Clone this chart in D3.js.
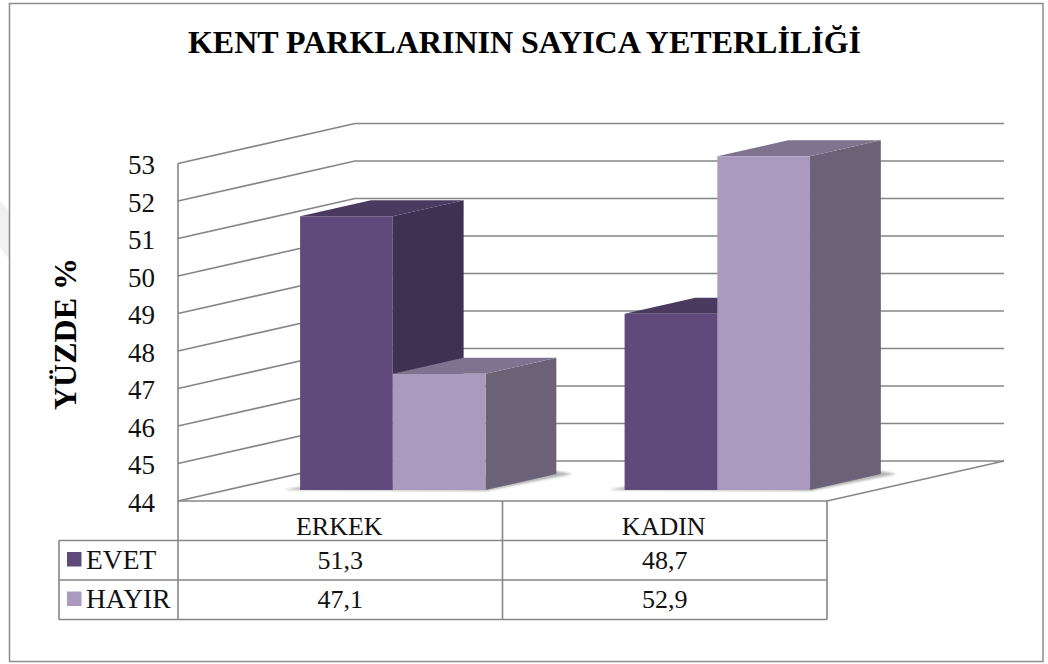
<!DOCTYPE html>
<html>
<head>
<meta charset="utf-8">
<script src="https://cdn.jsdelivr.net/npm/d3@7"></script>
<style>
body { margin: 0; background: #fff; }
svg { display: block; }
text { font-family: "Liberation Serif", serif; fill: #111; }
.grid { stroke: #868686; stroke-width: 1.6; fill: none; }
</style>
</head>
<body>
<script>
// values
var categories = ["ERKEK", "KADIN"];
var seriesNames = ["EVET", "HAYIR"];
var evet = [51.3, 48.7];
var hayir = [47.1, 52.9];
var yTicks = [44, 45, 46, 47, 48, 49, 50, 51, 52, 53];
var titleText = "KENT PARKLARININ SAYICA YETERLİLİĞİ";
var yTitle = "YÜZDE %";

var colors = {
    EVET: {front: "#604a7b", top: "#4b3a60", side: "#3f3152"},
    HAYIR: {front: "#aa9abd", top: "#7f738f", side: "#6b6277"}
};

var width = 1048, height = 664;

var svg = d3.select("body").append("svg")
    .attr("width", width)
    .attr("height", height);

var defs = svg.append("defs");
defs.append("filter").attr("id", "blur")
    .append("feGaussianBlur").attr("stdDeviation", 1);

// faint mark on the left edge of the page
svg.append("polygon")
    .attr("points", "0,200 9,211 9,259 0,248")
    .attr("fill", "#f1f1f1");

// outer frame
svg.append("rect")
    .attr("x", 9.5).attr("y", 3.5)
    .attr("width", 1033.5).attr("height", 658)
    .attr("fill", "#fff")
    .attr("stroke", "#8c8c8c").attr("stroke-width", 1.5);

// scales, t is the depth into the chart (0 = front edge, 1 = back wall)
var x = d3.scaleBand().domain(categories).range([178, 827]);
var x1 = d3.scaleBand().domain(seriesNames).range([0, x.bandwidth()]).paddingOuter(0.75).align(0.528);
var y = d3.scaleLinear().domain([44, 53]).range([501, 163.5]);
var depthX = d3.scaleLinear().domain([0, 1]).range([0, 177]);
var depthY = d3.scaleLinear().domain([0, 1]).range([0, -40]);

function pt(xv, val, t) {
    return [xv + depthX(t), y(val) + depthY(t)];
}
var line = d3.line();

// walls and floor lines
var x0 = x.range()[0], xEnd = x.range()[1];
yTicks.forEach(function(d) {
    svg.append("path").attr("class", "grid")
        .attr("d", line([pt(x0, d, 0), pt(x0, d, 1), pt(xEnd, d, 1)]));
});
svg.append("path").attr("class", "grid")
    .attr("d", line([pt(xEnd, 44, 1), pt(xEnd, 44, 0)]));
svg.append("path").attr("class", "grid")
    .attr("d", line([pt(x0, 53, 0), pt(x0, 44, 0)]));

// y axis labels
var yAxis = svg.append("g")
    .attr("transform", "translate(155,0)")
    .call(d3.axisLeft(y).tickValues(yTicks).tickSize(0).tickPadding(0));
yAxis.select(".domain").remove();
yAxis.selectAll("text")
    .style("font-family", '"Liberation Serif", serif')
    .style("font-size", "27px")
    .attr("dy", "0.38em")
    .attr("fill", "#111");

// bars
var barFront = 0.275, barBack = 0.675;
var allValues = {EVET: evet, HAYIR: hayir};

function poly(g, pts, fill) {
    g.append("path").attr("d", line(pts) + "Z").attr("fill", fill);
}

categories.forEach(function(cat, i) {
    var g = svg.append("g").attr("class", "bars");
    var left = x(cat) + x1(seriesNames[0]);
    var right = x(cat) + x1(seriesNames[1]) + x1.bandwidth();

    // soft shadow on the floor
    var a = pt(left, 44, barFront), b = pt(right, 44, barFront), c = pt(right, 44, barBack);
    g.append("path")
        .attr("d", line([[a[0] - 16, a[1]], [b[0] + 1, b[1] + 1], [c[0] + 16, c[1]], [c[0], c[1] - 3], [a[0], a[1] - 3]]) + "Z")
        .attr("fill", "#b5b5b5")
        .attr("filter", "url(#blur)");

    seriesNames.forEach(function(name) {
        var v = allValues[name][i];
        var l = x(cat) + x1(name), r = l + x1.bandwidth();
        var col = colors[name];
        // side face
        poly(g, [pt(r, 44, barFront), pt(r, 44, barBack), pt(r, v, barBack), pt(r, v, barFront)], col.side);
        // top face
        poly(g, [pt(l, v, barFront), pt(l, v, barBack), pt(r, v, barBack), pt(r, v, barFront)], col.top);
        // front face
        poly(g, [pt(l, 44, barFront), pt(r, 44, barFront), pt(r, v, barFront), pt(l, v, barFront)], col.front);
    });
});

// data table under the chart
var rowY = d3.scaleBand().domain(["head"].concat(seriesNames)).range([501, 619.5]);
var tableLeft = 59;
var tableColor = "#868686";

function tline(x1v, y1v, x2v, y2v) {
    svg.append("line")
        .attr("x1", x1v).attr("y1", y1v).attr("x2", x2v).attr("y2", y2v)
        .attr("stroke", tableColor).attr("stroke-width", 1.6);
}
tline(x0, 501, xEnd, 501);
seriesNames.forEach(function(name) {
    tline(tableLeft, rowY(name), xEnd, rowY(name));
});
tline(tableLeft, 619.5, xEnd, 619.5);
tline(tableLeft, rowY("EVET"), tableLeft, 619.5);
tline(x0, 501, x0, 619.5);
tline(x("KADIN"), 501, x("KADIN"), 619.5);
tline(xEnd, 501, xEnd, 619.5);

var comma = d3.formatLocale({decimal: ",", thousands: ".", grouping: [3], currency: ["", ""]}).format(".1f");

categories.forEach(function(cat, i) {
    var cx = x(cat) + x.bandwidth() / 2;
    svg.append("text")
        .attr("x", cx - 1).attr("y", rowY("head") + 34)
        .attr("text-anchor", "middle")
        .style("font-size", "26px")
        .text(cat);
    seriesNames.forEach(function(name) {
        svg.append("text")
            .attr("x", cx).attr("y", rowY(name) + 28)
            .attr("text-anchor", "middle")
            .style("font-size", "26px")
            .text(comma(allValues[name][i]));
    });
});

seriesNames.forEach(function(name) {
    svg.append("rect")
        .attr("x", 67).attr("y", rowY(name) + 11.5)
        .attr("width", 14.5).attr("height", 14.5)
        .attr("fill", colors[name].front);
    svg.append("text")
        .attr("x", 86).attr("y", rowY(name) + 28)
        .style("font-size", "27.5px")
        .text(name);
});

// titles
svg.append("text")
    .attr("x", 524.5).attr("y", 53)
    .attr("text-anchor", "middle")
    .style("font-size", "32px")
    .style("font-weight", "bold")
    .style("fill", "#000")
    .text(titleText);

svg.append("text")
    .attr("transform", "translate(76,334) rotate(-90)")
    .attr("text-anchor", "middle")
    .style("font-size", "32px")
    .style("font-weight", "bold")
    .style("fill", "#000")
    .text(yTitle);
</script>
</body>
</html>
